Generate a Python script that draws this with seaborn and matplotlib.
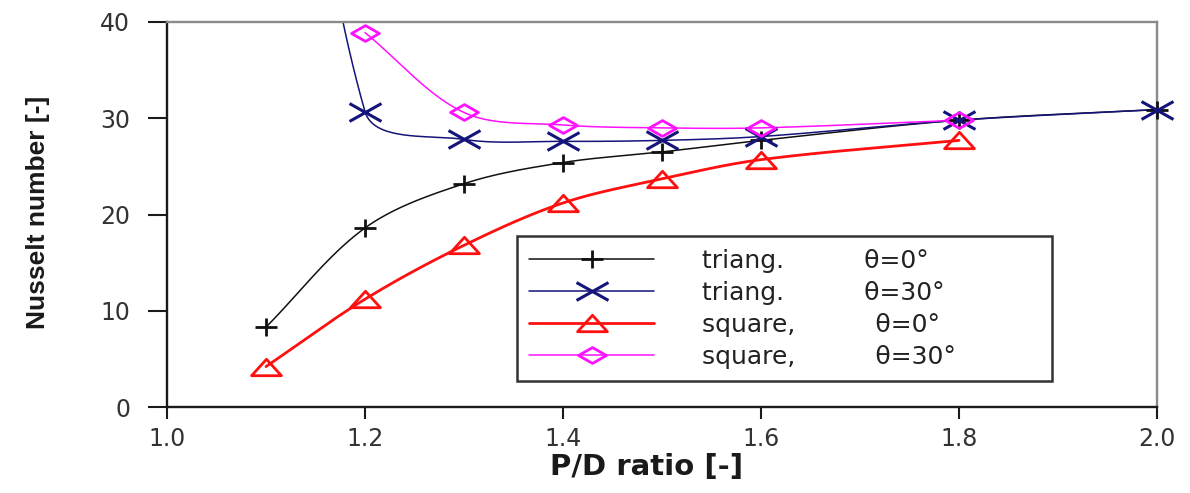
import numpy as np
import matplotlib
matplotlib.use('Agg')
import matplotlib.pyplot as plt
from matplotlib.path import Path
from matplotlib.lines import Line2D
import seaborn as sns

# ── data ──────────────────────────────────────────────────────────────────────
pd_tri = [1.1, 1.2, 1.3, 1.4, 1.5, 1.6, 1.8, 2.0]
nu_tri0 = [8.3, 18.6, 23.2, 25.4, 26.5, 27.7, 29.8, 30.9]
nu_tri30 = [100.0, 30.7, 27.8, 27.6, 27.7, 28.1, 29.8, 30.9]   # first point is off the chart
pd_sq0 = [1.1, 1.2, 1.3, 1.4, 1.5, 1.6, 1.8]
nu_sq0 = [4.2, 11.2, 16.8, 21.2, 23.7, 25.7, 27.7]
pd_sq30 = [1.2, 1.3, 1.4, 1.5, 1.6, 1.8]
nu_sq30 = [38.9, 30.6, 29.3, 29.0, 29.0, 29.8]

labels = ['triang.          θ=0°', 'triang.          θ=30°',
          'square,          θ=0°', 'square,          θ=30°']
x_ticks = [1.0, 1.2, 1.4, 1.6, 1.8, 2.0]
y_ticks = [0, 10, 20, 30, 40]

# ── style ─────────────────────────────────────────────────────────────────────
sns.set_style('ticks')
plt.rcParams['font.family'] = ['DejaVu Sans']

MV, LT, CL = Path.MOVETO, Path.LINETO, Path.CLOSEPOLY
PLUS = Path([(-1, 0), (1, 0), (0, -0.78), (0, 0.78)], [MV, LT, MV, LT])
CROSS = Path([(-1, -0.56), (1, 0.56), (-1, 0.56), (1, -0.56)], [MV, LT, MV, LT])
TRI = Path([(-1, -0.55), (1, -0.55), (0, 0.55), (-1, -0.55)], [MV, LT, LT, CL])
DIAM = Path([(-1, 0), (0, 0.57), (1, 0), (0, -0.57), (-1, 0)], [MV, LT, LT, LT, CL])

series = [
    (pd_tri, nu_tri0, '#111111', 1.1, PLUS, 16.5, 2.0),
    (pd_tri, nu_tri30, '#14147a', 1.1, CROSS, 23, 2.2),
    (pd_sq0, nu_sq0, '#ff1010', 2.0, TRI, 21.5, 2.0),
    (pd_sq30, nu_sq30, '#ff10ff', 1.1, DIAM, 20, 2.0),
]


def smooth(ax, xs, ys, n=40):
    # Excel-like smoothed line: bezier segments built in screen space
    pts = ax.transData.transform(np.column_stack([xs, ys]))
    m = len(pts)
    out = [pts[:1]]
    t = np.linspace(0, 1, n)[1:, None]
    for i in range(m - 1):
        p0, p1 = pts[max(i - 1, 0)], pts[i]
        p2, p3 = pts[i + 1], pts[min(i + 2, m - 1)]
        d0 = np.linalg.norm(p1 - p0)
        d1 = np.linalg.norm(p2 - p1)
        d2 = np.linalg.norm(p3 - p2)
        c1 = p1 + (p2 - p0) * d1 / (d0 + d1) / 3
        c2 = p2 - (p3 - p1) * d1 / (d1 + d2) / 3
        seg = (1 - t)**3 * p1 + 3 * (1 - t)**2 * t * c1 + 3 * (1 - t) * t**2 * c2 + t**3 * p2
        out.append(seg)
    dense = ax.transData.inverted().transform(np.vstack(out))
    return dense[:, 0], dense[:, 1]


fig = plt.figure(figsize=(11.9, 4.93), dpi=100)
fig.patch.set_facecolor('white')
ax = fig.add_axes([0.1403, 0.1744, 0.8320, 0.7810])
ax.set_xlim(1.0, 2.0)
ax.set_ylim(0, 40)

handles = []
for xs, ys, col, lw, mk, ms, mew in series:
    sx, sy = smooth(ax, xs, ys)
    sns.lineplot(x=sx, y=sy, sort=False, estimator=None, color=col, lw=lw,
                 ax=ax, legend=False)
    xs_a, ys_a = np.array(xs), np.array(ys)
    vis = ys_a <= 40
    ax.plot(xs_a[vis], ys_a[vis], linestyle='none', marker=mk, ms=ms, mew=mew,
            mfc='none', mec=col, clip_on=False, zorder=4)
    handles.append(Line2D([], [], color=col, lw=lw, marker=mk, ms=ms, mew=mew,
                          mfc='none', mec=col))

ax.set_xticks(x_ticks)
ax.set_xticklabels([f'{v:.1f}' for v in x_ticks])
ax.set_yticks(y_ticks)
ax.tick_params(axis='y', length=13.5, width=1.5, pad=13, labelsize=17,
               labelcolor='#333333', color='#1a1a1a')
ax.tick_params(axis='x', length=8.5, width=1.5, pad=6, labelsize=17,
               labelcolor='#333333', color='#1a1a1a')

for s in ['left', 'bottom']:
    ax.spines[s].set_color('#1a1a1a')
    ax.spines[s].set_linewidth(1.7)
for s in ['top', 'right']:
    ax.spines[s].set_color('#8a8a8a')
    ax.spines[s].set_linewidth(1.7)

ax.set_xlabel('P/D ratio [-]', fontsize=21, fontweight='bold', color='#1a1a1a')
ax.xaxis.set_label_coords(0.484, -0.12)
ax.set_ylabel('Nusselt number [-]', fontsize=19, fontweight='bold', color='#1a1a1a',
              family=['Liberation Sans', 'DejaVu Sans'])
ax.yaxis.set_label_coords(-0.118, 0.506)

leg = ax.legend(handles, labels, loc='upper left',
                bbox_to_anchor=(0.3535, 0.083, 0.5404, 0.361), mode='expand',
                borderaxespad=0, fontsize=18, frameon=True, fancybox=False,
                edgecolor='#333333', framealpha=1, handlelength=5.0,
                handletextpad=1.9, borderpad=0.5, labelspacing=0.32)
leg.get_frame().set_linewidth(1.8)
for txt in leg.get_texts():
    txt.set_color('#222222')

plt.savefig('out.png', dpi=100, facecolor='white')
plt.close()
